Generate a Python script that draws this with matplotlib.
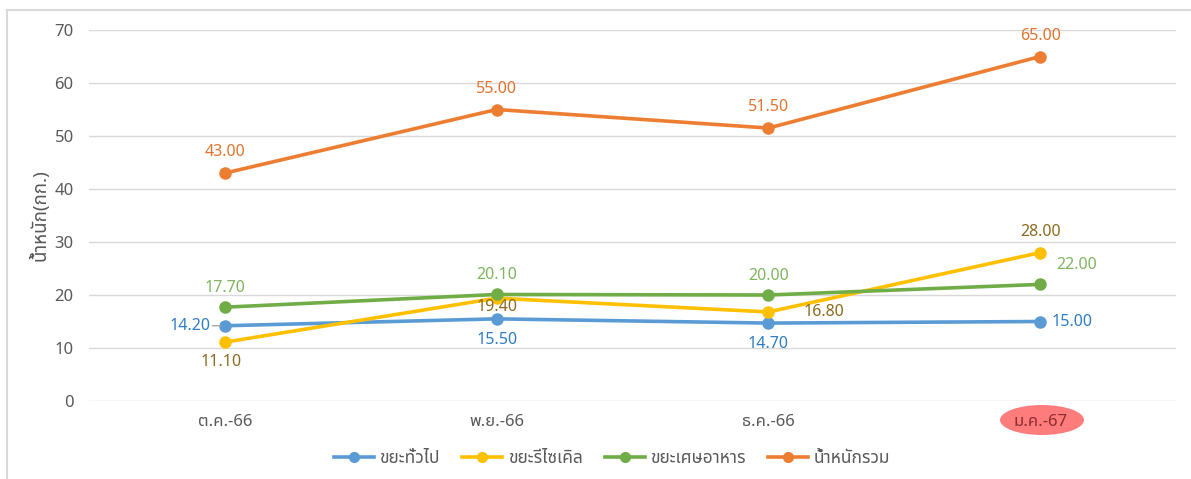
import matplotlib
matplotlib.use("Agg")
import matplotlib.pyplot as plt
from matplotlib import font_manager, ft2font
from matplotlib.patches import Ellipse
from matplotlib.lines import Line2D

# ---- data ----
categories = ["ต.ค.-66", "พ.ย.-66", "ธ.ค.-66", "ม.ค.-67"]
general = [14.20, 15.50, 14.70, 15.00]
recycle = [11.10, 19.40, 16.80, 28.00]
food = [17.70, 20.10, 20.00, 22.00]
total = [43.00, 55.00, 51.50, 65.00]
series_names = ["ขยะทั่วไป", "ขยะรีไซเคิล", "ขยะเศษอาหาร", "น้ำหนักรวม"]
y_label = "น้ำหนัก(กก.)"
y_ticks = [0, 10, 20, 30, 40, 50, 60, 70]

# ---- font with Thai glyphs ----
def find_thai_font():
    pref = ["Noto Sans Thai", "Noto Sans", "DejaVu Sans", "Liberation Sans", "Open Sans", "Lato", "Roboto", "Inter"]
    found = {}
    for fe in font_manager.fontManager.ttflist:
        try:
            f = ft2font.FT2Font(fe.fname)
            cm = f.get_charmap()
            if ord("ข") in cm and ord("น") in cm:
                found.setdefault(fe.name, fe.fname)
        except Exception:
            pass
    for p in pref:
        if p in found:
            return p
    if found:
        return sorted(found)[0]
    return None

thai = find_thai_font()
fams = ([thai] if thai else []) + ["DejaVu Sans"]
plt.rcParams["font.family"] = fams

W, H = 1191, 479
fig = plt.figure(figsize=(W / 100, H / 100), dpi=100)
ax = fig.add_axes([89 / W, 1 - 401 / H, (1176 - 89) / W, (401 - 30) / H])

x = list(range(len(categories)))
colors = ["#5B9BD5", "#FFC000", "#70AD47", "#ED7D31"]
label_colors = ["#2E7DC6", "#8C6B1E", "#7DB65E", "#E0742E"]
data = [general, recycle, food, total]

for i in range(4):
    ax.plot(x, data[i], color=colors[i], lw=2.6, marker="o", ms=8,
            solid_capstyle="round", clip_on=False, zorder=3 + i,
            label=series_names[i])

# data labels (offsets in points)
offsets = {
    0: [(-10, 0, "right"), (0, -15, "center"), (0, -15, "center"), (8, 0, "left")],
    1: [(-3, -14, "center"), (0, -6, "center"), (40, 0, "center"), (0, 15, "center")],
    2: [(0, 14, "center"), (0, 14, "center"), (0, 14, "center"), (26, 14, "center")],
    3: [(0, 15, "center"), (0, 15, "center"), (0, 15, "center"), (0, 15, "center")],
}
for i in range(4):
    for j, v in enumerate(data[i]):
        dx, dy, ha = offsets[i][j]
        ax.annotate(f"{v:.2f}", (x[j], v), xytext=(dx, dy), textcoords="offset points",
                    ha=ha, va="center", fontsize=11.5, color=label_colors[i], zorder=10)
# small leader line for 14.20
ax.annotate("", (x[0], general[0]), xytext=(-9, 0), textcoords="offset points",
            arrowprops=dict(arrowstyle="-", color="#A6A6A6", lw=1.0, shrinkA=0, shrinkB=3))

ax.set_xlim(-0.5, 3.5)
ax.set_ylim(0, 70)
ax.set_yticks(y_ticks)
ax.set_xticks(x)
ax.set_xticklabels(categories)
ax.grid(axis="y", color="#D9D9D9", lw=1)
ax.set_axisbelow(True)
for s in ax.spines.values():
    s.set_visible(False)
ax.tick_params(axis="both", length=0, labelsize=12, colors="#595959")
ax.tick_params(axis="y", pad=11)
ax.tick_params(axis="x", pad=9)
ax.set_ylabel(y_label, fontsize=13.5, color="#595959", fontweight="bold")
ax.yaxis.set_label_coords((50 - 89) / (1176 - 89), (401 - 215) / (401 - 30))

# highlight ellipse on last category
xl = ax.get_xticklabels()
xl[-1].set_color("#8B2E2E")
ell = Ellipse((1042 / W, 1 - 420 / H), 84 / W, 30 / H, transform=fig.transFigure,
              facecolor="#FF7C7C", edgecolor="none", zorder=0)
fig.add_artist(ell)

# legend
handles = [Line2D([0], [0], color=colors[i], lw=2.6, marker="o", ms=7) for i in range(4)]
fig.legend(handles, series_names, loc="center", bbox_to_anchor=(612 / W, 1 - 458 / H),
           ncol=4, frameon=False, fontsize=12.5, labelcolor="#595959",
           handlelength=2.3, handletextpad=0.3, columnspacing=1.3)

# chart border (top and left visible)
fig.add_artist(Line2D([7 / W, 7 / W], [0, 1 - 10 / H], transform=fig.transFigure, color="#D9D9D9", lw=1.5))
fig.add_artist(Line2D([7 / W, 1], [1 - 10 / H, 1 - 10 / H], transform=fig.transFigure, color="#D9D9D9", lw=1.5))

fig.savefig("out.png", dpi=100)
